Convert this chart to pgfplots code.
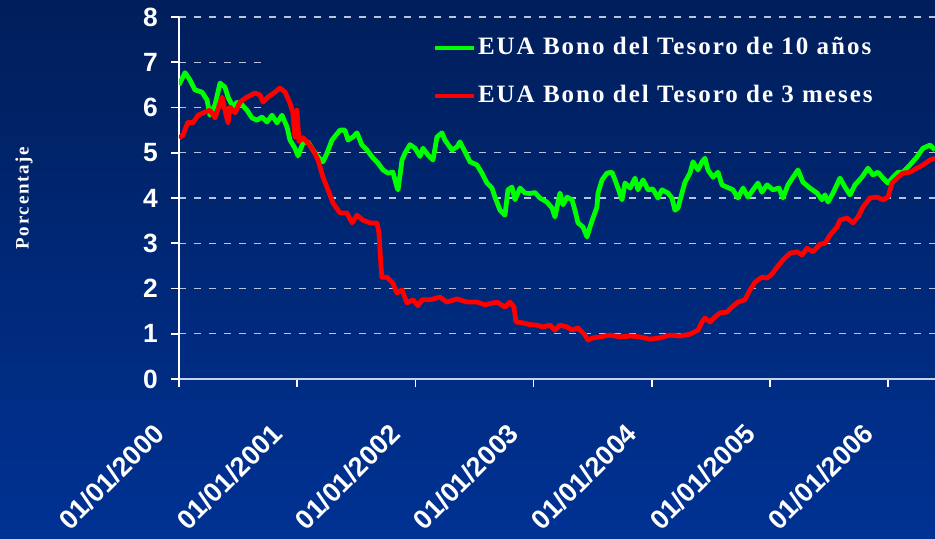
\documentclass[border=0pt]{standalone}
\usepackage{fontspec}
\setmainfont{Liberation Serif}
\newfontfamily\arialfont{Liberation Sans}
\newfontfamily\legfont{Liberation Serif}[LetterSpace=8]
\newfontfamily\labfont{Liberation Serif}[LetterSpace=9]
\usepackage{pgfplots}
\usepackage{pgfplotstable}
\pgfplotsset{compat=1.18}

\definecolor{bgtop}{RGB}{0,30,90}
\definecolor{bgbot}{RGB}{0,50,148}
\definecolor{boxtop}{RGB}{0,31,93}
\definecolor{boxbot}{RGB}{0,34,102}
\definecolor{gridc}{RGB}{185,195,220}
\definecolor{xaxc}{RGB}{200,210,230}
\definecolor{lgreen}{RGB}{0,255,0}
\definecolor{lred}{RGB}{255,0,0}

\pgfplotstableread{
x y
0.000 6.50
0.051 6.77
0.093 6.61
0.135 6.39
0.195 6.34
0.237 6.17
0.262 5.83
0.305 6.06
0.347 6.54
0.389 6.45
0.415 6.23
0.457 6.01
0.491 6.12
0.533 6.06
0.575 5.94
0.618 5.77
0.660 5.72
0.702 5.79
0.745 5.68
0.787 5.83
0.829 5.66
0.871 5.83
0.914 5.57
0.939 5.28
0.981 5.10
1.007 4.93
1.049 5.22
1.091 5.24
1.134 5.06
1.176 4.91
1.218 4.80
1.252 4.99
1.294 5.28
1.362 5.50
1.404 5.50
1.430 5.28
1.472 5.35
1.506 5.44
1.548 5.17
1.591 5.06
1.633 4.91
1.684 4.77
1.726 4.62
1.768 4.55
1.810 4.57
1.844 4.24
1.853 4.18
1.887 4.84
1.912 4.99
1.954 5.18
1.997 5.10
2.039 4.92
2.064 5.10
2.107 4.95
2.149 4.84
2.183 5.35
2.225 5.44
2.250 5.28
2.310 5.06
2.352 5.13
2.377 5.24
2.420 5.02
2.462 4.80
2.521 4.73
2.563 4.55
2.606 4.33
2.648 4.22
2.673 4.02
2.716 3.73
2.758 3.62
2.783 4.18
2.817 4.24
2.843 3.96
2.885 4.22
2.927 4.11
2.970 4.10
3.012 4.12
3.054 4.00
3.113 3.91
3.156 3.78
3.181 3.58
3.223 4.11
3.249 3.85
3.283 4.02
3.325 3.96
3.350 3.73
3.376 3.45
3.418 3.36
3.452 3.14
3.477 3.36
3.503 3.56
3.536 3.80
3.545 4.11
3.579 4.40
3.621 4.55
3.663 4.57
3.689 4.40
3.714 4.22
3.748 3.96
3.773 4.33
3.816 4.22
3.858 4.44
3.883 4.18
3.926 4.40
3.968 4.18
4.010 4.20
4.052 4.00
4.086 4.18
4.137 4.11
4.171 4.00
4.196 3.73
4.222 3.78
4.255 4.11
4.281 4.35
4.323 4.55
4.349 4.80
4.391 4.62
4.425 4.80
4.450 4.88
4.475 4.62
4.518 4.46
4.560 4.57
4.594 4.29
4.636 4.24
4.687 4.18
4.729 4.00
4.772 4.22
4.814 4.02
4.856 4.18
4.898 4.33
4.932 4.13
4.975 4.29
5.025 4.18
5.076 4.22
5.110 4.00
5.152 4.29
5.195 4.46
5.237 4.62
5.279 4.35
5.338 4.22
5.398 4.11
5.440 3.96
5.465 4.07
5.491 3.91
5.533 4.11
5.592 4.44
5.635 4.24
5.677 4.07
5.719 4.29
5.778 4.46
5.829 4.66
5.871 4.51
5.914 4.57
5.956 4.44
5.998 4.33
6.041 4.46
6.083 4.57
6.125 4.57
6.184 4.73
6.244 4.91
6.294 5.10
6.354 5.17
6.396 5.06
}\tenyear

\pgfplotstableread{
x y
0.000 5.33
0.034 5.39
0.076 5.68
0.118 5.66
0.161 5.83
0.220 5.90
0.262 5.94
0.305 5.77
0.347 6.10
0.364 6.23
0.389 5.94
0.415 5.66
0.431 6.01
0.474 5.88
0.516 6.12
0.575 6.23
0.643 6.32
0.685 6.28
0.711 6.12
0.753 6.23
0.812 6.34
0.854 6.43
0.897 6.34
0.939 6.10
0.964 5.88
0.981 5.35
0.998 5.94
1.015 5.25
1.049 5.33
1.091 5.22
1.134 5.06
1.176 4.84
1.218 4.46
1.261 4.18
1.303 3.89
1.362 3.67
1.421 3.67
1.464 3.45
1.506 3.62
1.557 3.51
1.616 3.45
1.675 3.45
1.692 3.23
1.709 2.48
1.717 2.25
1.760 2.25
1.810 2.12
1.844 1.90
1.887 1.97
1.929 1.68
1.980 1.75
2.022 1.62
2.056 1.75
2.124 1.75
2.208 1.81
2.267 1.70
2.352 1.77
2.437 1.70
2.521 1.70
2.589 1.64
2.690 1.70
2.758 1.59
2.800 1.70
2.834 1.59
2.851 1.26
2.910 1.24
2.970 1.20
3.029 1.19
3.079 1.15
3.139 1.19
3.181 1.08
3.223 1.19
3.283 1.15
3.325 1.08
3.376 1.13
3.409 1.04
3.435 0.97
3.460 0.86
3.503 0.91
3.562 0.93
3.646 0.97
3.731 0.93
3.816 0.95
3.900 0.93
3.985 0.88
4.069 0.91
4.154 0.97
4.238 0.95
4.323 0.99
4.391 1.08
4.425 1.26
4.450 1.35
4.492 1.26
4.535 1.37
4.577 1.46
4.636 1.48
4.678 1.59
4.729 1.70
4.788 1.75
4.831 1.97
4.873 2.14
4.932 2.25
4.975 2.23
5.017 2.32
5.068 2.50
5.110 2.63
5.169 2.78
5.228 2.81
5.271 2.74
5.313 2.89
5.364 2.81
5.423 2.98
5.465 3.00
5.508 3.18
5.567 3.36
5.592 3.51
5.651 3.56
5.702 3.45
5.744 3.58
5.787 3.80
5.846 4.00
5.905 4.02
5.956 3.96
5.998 4.02
6.032 4.33
6.075 4.44
6.125 4.55
6.184 4.57
6.244 4.66
6.294 4.73
6.354 4.84
6.396 4.88
}\threemonth

\begin{document}
\begin{tikzpicture}
\fill[top color=bgtop, bottom color=bgbot] (-89.5pt,-79.5pt) rectangle (378pt,189.5pt);
\begin{axis}[
  at={(0,0)}, anchor=south west, scale only axis,
  width=378pt, height=181pt,
  xmin=0, xmax=6.396, ymin=0, ymax=8,
  axis lines=left, axis line style={-},
  x axis line style={draw=xaxc, line width=0.8pt},
  y axis line style={draw=white, line width=0.8pt},
  xtick={0,1,2,3,4,5,6},
  xticklabels={01/01/2000,01/01/2001,01/01/2002,01/01/2003,01/01/2004,01/01/2005,01/01/2006},
  ytick={0,1,2,3,4,5,6,7,8},
  tick align=outside, major tick length=4pt,
  tick style={draw=white, line width=0.8pt},
  ymajorgrids,
  grid style={draw=gridc, dash pattern=on 3.5pt off 4pt, line width=0.7pt},
  /pgf/number format/assume math mode=true,
  yticklabel style={font=\arialfont\bfseries\fontsize{13.2}{15}\selectfont, text=white, xshift=-3pt},
  xticklabel style={font=\arialfont\bfseries\fontsize{13.5}{15}\selectfont, text=white,
    xshift=-7.5pt, yshift=-18.5pt, rotate=45, anchor=east},
  ylabel={Porcentaje},
  ylabel style={font=\labfont\bfseries\fontsize{9.5}{10}\selectfont, text=white, at={(axis description cs:-0.205,0.5)}, anchor=center},
  legend style={at={(axis cs:2.149,7.624)}, anchor=north west, draw=none, fill=none,
    inner sep=0pt, outer sep=0pt, row sep=10pt,
    font=\legfont\bfseries\fontsize{12.5}{14}\selectfont, text=white,
    nodes={inner sep=1pt, text height=9pt, text depth=3pt}},
  legend cell align=left,
  legend image code/.code={\draw[#1, line width=2pt] (0pt,0pt) -- (19.5pt,0pt);},
  clip=true,
]
\fill[top color=boxtop, bottom color=boxbot] (axis cs:0.728,5.85) rectangle (axis cs:6.396,7.8);
\addplot[lgreen, line width=2.4pt, line join=round] table[x=x, y=y] {\tenyear};
\addlegendentry{EUA Bono del Tesoro de 10 años}
\addplot[lred, line width=2.4pt, line join=round] table[x=x, y=y] {\threemonth};
\addlegendentry{EUA Bono del Tesoro de 3 meses}
\end{axis}
\pgfresetboundingbox
\path (-89.5pt,-79.5pt) rectangle (378pt,189.5pt);
\end{tikzpicture}
\end{document}
